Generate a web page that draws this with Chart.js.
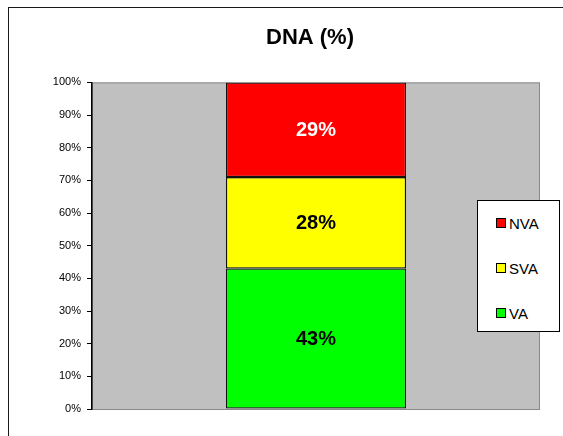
<!DOCTYPE html>
<html>
<head>
<meta charset="utf-8">
<script src="https://cdn.jsdelivr.net/npm/chart.js@4"></script>
<style>
  html, body { margin: 0; padding: 0; background: #fff; overflow: hidden; }
  #wrap { position: relative; width: 563px; height: 436px; }
  #frame {
    position: absolute; left: 8px; top: 7px; width: 620px; height: 500px;
    border: 1.5px solid #1a1a1a; pointer-events: none;
  }
  #chart { position: absolute; left: 0; top: 0; }
  #legend {
    position: absolute; left: 477px; top: 200px; width: 83px; height: 132px;
    box-sizing: border-box; border: 1.5px solid #000; background: #fff;
    font: 15px "Liberation Sans", Arial, sans-serif; color: #000;
  }
  #legend .item { position: absolute; left: 18px; height: 16px; line-height: 16px; white-space: nowrap; }
  #legend .sw {
    display: inline-block; width: 8px; height: 8px; border: 1px solid #000;
    margin-right: 3px; vertical-align: 1px;
  }
</style>
</head>
<body>
<div id="wrap">
  <div id="frame"></div>
  <canvas id="chart" width="563" height="436"></canvas>
  <div id="legend"></div>
</div>
<script>
const FONT = '"Liberation Sans", Arial, sans-serif';

// one stacked column, shares in percent
const categories = ["DNA"];
const seriesNames = ["VA", "SVA", "NVA"];
const vaValues = [43];
const svaValues = [28];
const nvaValues = [29];

const seriesColors = ["#00ff00", "#ffff00", "#ff0000"];
const labelColors = ["#000000", "#000000", "#ffffff"];

// gray plot background with a thin border
const plotBg = {
  id: "plotBg",
  beforeDraw(chart) {
    const { ctx, chartArea: a } = chart;
    ctx.save();
    ctx.fillStyle = "#c0c0c0";
    ctx.fillRect(a.left, a.top, a.right - a.left, a.bottom - a.top);
    ctx.strokeStyle = "#8a8a8a";
    ctx.lineWidth = 1;
    ctx.strokeRect(a.left + 0.5, a.top + 0.5, a.right - a.left - 1, a.bottom - a.top);
    ctx.restore();
  },
};

// the y axis box is kept narrow so the title stays centred; let its labels
// use the space on the left (labels are clipped to the scale box)
const widenYLabels = {
  id: "widenYLabels",
  afterLayout(chart) {
    chart.scales.y.left = 0;
  },
};

// percentage text in the middle of each segment
const segLabels = {
  id: "segLabels",
  afterDatasetsDraw(chart) {
    const { ctx } = chart;
    ctx.save();
    ctx.font = `bold 20px ${FONT}`;
    ctx.textAlign = "center";
    ctx.textBaseline = "middle";
    chart.data.datasets.forEach((ds, i) => {
      chart.getDatasetMeta(i).data.forEach((bar, j) => {
        const p = bar.getCenterPoint();
        ctx.fillStyle = ds.labelColor;
        ctx.fillText(ds.data[j] + "%", p.x, p.y + 1);
      });
    });
    ctx.restore();
  },
};

const seriesData = [vaValues, svaValues, nvaValues];

const chart = new Chart(document.getElementById("chart"), {
  type: "bar",
  data: {
    labels: categories,
    datasets: seriesNames.map((name, i) => ({
      label: name,
      data: seriesData[i],
      backgroundColor: seriesColors[i],
      borderColor: "#111",
      borderWidth: 1.3,
      borderSkipped: false,
      labelColor: labelColors[i],
      categoryPercentage: 1,
      barPercentage: 0.402,
    })),
  },
  options: {
    responsive: false,
    animation: false,
    layout: { padding: { left: 80, right: 23, top: 0, bottom: 27 } },
    scales: {
      x: { stacked: true, display: false },
      y: {
        stacked: true,
        min: 0,
        max: 100,
        afterFit(scale) { scale.width = 12; },
        ticks: {
          stepSize: 10,
          padding: 6,
          color: "#000",
          font: { family: FONT, size: 11 },
          callback: (v) => v + "%",
        },
        grid: { drawOnChartArea: false, tickLength: 5, color: "#000", tickWidth: 1 },
        border: { color: "#000", width: 1.5 },
      },
    },
    plugins: {
      legend: { display: false },
      tooltip: { enabled: false },
      title: {
        display: true,
        text: "DNA (%)",
        color: "#000",
        font: { family: FONT, size: 22, weight: "bold" },
        padding: { top: 25, bottom: 31 },
      },
    },
  },
  plugins: [plotBg, widenYLabels, segLabels],
});

// legend box, top entry is the top segment
const legendEl = document.getElementById("legend");
const rowsTop = [15, 60, 105];
chart.data.datasets.slice().reverse().forEach((ds, k) => {
  const item = document.createElement("div");
  item.className = "item";
  item.style.top = rowsTop[k] + "px";
  const sw = document.createElement("span");
  sw.className = "sw";
  sw.style.background = ds.backgroundColor;
  item.appendChild(sw);
  item.appendChild(document.createTextNode(ds.label));
  legendEl.appendChild(item);
});
</script>
</body>
</html>
